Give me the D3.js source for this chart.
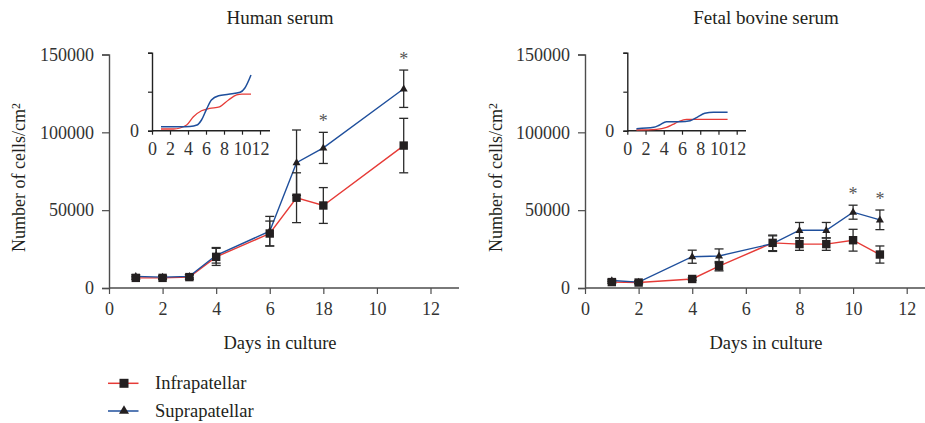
<!DOCTYPE html>
<html><head><meta charset="utf-8">
<script src="https://cdn.jsdelivr.net/npm/d3@7"></script>
<style>
body{margin:0;background:#fff}
text{font-family:"Liberation Serif","Times New Roman",serif}
</style>
</head><body>
<svg id="c" width="925" height="423"></svg>
<script>
// ---------- data ----------
const xTickValues = [0, 2, 4, 6, 8, 10, 12];
const hsXTickLabels = ["0", "2", "4", "6", "18", "10", "12"];
const fbsXTickLabels = ["0", "2", "4", "6", "8", "10", "12"];
const yTickValues = [0, 50000, 100000, 150000];
const seriesNames = ["Infrapatellar", "Suprapatellar"];
const panelTitles = ["Human serum", "Fetal bovine serum"];
const xAxisTitle = "Days in culture";

// Human serum
const hsDays = [1, 2, 3, 4, 6, 7, 8, 11];
const hsInfra = [6500, 6500, 7000, 20000, 35000, 58000, 53000, 91500];
const hsInfraErr = [1000, 1000, 1500, 5500, 8000, 16000, 11500, 17500];
const hsSupra = [7500, 7000, 7500, 21000, 36500, 80500, 90000, 128000];
const hsSupraErr = [1000, 1000, 1000, 5000, 9500, 21000, 10000, 12000];
const hsStarDays = [8, 11];

// Fetal bovine serum
const fbsDays = [1, 2, 4, 5, 7, 8, 9, 10, 11];
const fbsInfra = [3800, 3500, 5800, 14000, 29000, 28200, 28200, 30700, 21500];
const fbsInfraErr = [800, 800, 800, 3000, 5000, 4000, 4000, 7000, 5500];
const fbsSupra = [4800, 3800, 20100, 20600, 28500, 37100, 37100, 48700, 43800];
const fbsSupraErr = [800, 800, 4200, 4500, 5000, 5000, 5000, 4500, 6300];
const fbsStarDays = [10, 11];

// Insets (relative units)
const hsInsetInfraX = [1, 2.4, 3.85, 4.6, 5.5, 6.4, 7.5, 8.5, 9.4, 10, 11];
const hsInsetInfraY = [2.2, 2.2, 7.3, 17.9, 25.6, 28.6, 30.6, 39.4, 45.8, 46.9, 46.9];
const hsInsetSupraX = [1, 2, 3, 4.2, 5, 5.5, 6.1, 6.6, 7.4, 8.5, 9.8, 10.3, 11];
const hsInsetSupraY = [5.2, 5.2, 5.2, 5.5, 7.3, 13.7, 28.6, 39.4, 44.9, 46.7, 49.2, 54.4, 71.4];
const fbsInsetInfraX = [1, 3.2, 4.3, 5, 5.6, 6.5, 11];
const fbsInsetInfraY = [0.9, 1.8, 4.3, 8, 11.5, 14.6, 14.6];
const fbsInsetSupraX = [1, 2.9, 3.5, 4.3, 5.8, 6.9, 7.7, 8.5, 9.45, 11];
const fbsInsetSupraY = [2.6, 4.3, 7, 11.5, 11.5, 12.8, 17.5, 22.3, 23.6, 23.6];
const insetYTicks = [0, 50, 100];

// ---------- styles ----------
const RED = "#e63b37", BLUE = "#1f4f9c", MARK = "#231f20", AXIS = "#4d4d4d", TXT = "#231f20", TICKTXT = "#333";
const svg = d3.select("#c");

function tri(w, h) {
  return `M0,${-h * 0.62}L${w / 2},${h * 0.38}L${-w / 2},${h * 0.38}Z`;
}

function panel(o) {
  const g = svg.append("g");
  const x = d3.scaleLinear().domain([0, 12]).range([o.x0, o.x12]);
  const y = d3.scaleLinear().domain([0, 150000]).range([288, 54.5]);

  // x axis
  const xa = g.append("g").attr("transform", "translate(0,288)")
    .call(d3.axisBottom(x).tickValues(xTickValues).tickSize(6).tickPadding(8)
      .tickFormat((d, i) => o.xLabels[i]));
  xa.select(".domain").remove();
  xa.append("line").attr("x1", o.x0).attr("x2", o.xEnd).attr("y1", 0).attr("y2", 0)
    .attr("stroke", AXIS).attr("stroke-width", 1.6);
  xa.selectAll(".tick line").attr("stroke", AXIS).attr("stroke-width", 1.2);
  xa.selectAll("text").style("font-size", "18px").style("fill", TICKTXT);

  // y axis
  const ya = g.append("g").attr("transform", `translate(${o.x0},0)`)
    .call(d3.axisLeft(y).tickValues(yTickValues).tickSize(7).tickPadding(8).tickFormat(d3.format("d")));
  ya.select(".domain").attr("stroke", AXIS).attr("stroke-width", 1.4);
  ya.selectAll(".tick line").attr("stroke", AXIS).attr("stroke-width", 1.2);
  ya.selectAll("text").style("font-size", "18px").style("fill", TICKTXT);

  // titles
  g.append("text").attr("x", o.cx).attr("y", 24.3).attr("text-anchor", "middle")
    .style("font-size", "19px").style("fill", TXT).text(o.title);
  g.append("text").attr("x", o.cx).attr("y", 349.3).attr("text-anchor", "middle")
    .style("font-size", "18.5px").style("fill", TXT).text(xAxisTitle);
  const yl = g.append("text").attr("transform", `translate(${o.ylx},177.5) rotate(-90)`)
    .attr("text-anchor", "middle").style("font-size", "18px").style("fill", TXT);
  yl.append("tspan").text("Number of cells/cm");
  yl.append("tspan").attr("dy", "-0.45em").style("font-size", "12px").text("2");

  const series = [
    {v: o.infra, e: o.infraErr, days: o.days, color: RED, m: "sq"},
    {v: o.supra, e: o.supraErr, days: o.days, color: BLUE, m: "tri"}
  ];
  const line = d3.line();
  series.forEach(s => {
    g.append("path").attr("fill", "none").attr("stroke", s.color).attr("stroke-width", 1.4)
      .attr("d", line(s.days.map((d, i) => [x(d), y(s.v[i])])));
  });
  series.forEach(s => {
    s.days.forEach((d, i) => {
      const cx = x(d), t = y(s.v[i] + s.e[i]), b = y(s.v[i] - s.e[i]);
      const eg = g.append("g").attr("stroke", "#2b2b2b").attr("stroke-width", 1.3);
      eg.append("line").attr("x1", cx).attr("x2", cx).attr("y1", t).attr("y2", b);
      eg.append("line").attr("x1", cx - 4.5).attr("x2", cx + 4.5).attr("y1", t).attr("y2", t);
      eg.append("line").attr("x1", cx - 4.5).attr("x2", cx + 4.5).attr("y1", b).attr("y2", b);
    });
  });
  series.slice().reverse().forEach(s => {
    s.days.forEach((d, i) => {
      const cx = x(d), cy = y(s.v[i]);
      if (s.m === "sq") {
        g.append("rect").attr("x", cx - 4.2).attr("y", cy - 4.2).attr("width", 8.4).attr("height", 8.4)
          .attr("fill", MARK);
      } else {
        g.append("path").attr("d", tri(8, 7)).attr("transform", `translate(${cx},${cy})`).attr("fill", MARK);
      }
    });
  });
  // asterisks
  o.stars.forEach(d => {
    const i = o.days.indexOf(d);
    const top = y(o.supra[i] + o.supraErr[i]);
    g.append("text").attr("x", x(d)).attr("y", top - 5).attr("text-anchor", "middle")
      .style("font-size", "18px").style("fill", "#555").text("*");
  });

  // inset
  const ix = d3.scaleLinear().domain([0, 12]).range([o.ix0, o.ix12]);
  const iy = d3.scaleLinear().domain([0, 100]).range([130.7, 52.7]);
  const ig = g.append("g");
  const ixa = ig.append("g").attr("transform", "translate(0,130.7)")
    .call(d3.axisBottom(ix).tickValues(xTickValues).tickSize(4).tickPadding(8));
  ixa.select(".domain").remove();
  ixa.append("line").attr("x1", o.ix0).attr("x2", o.ixEnd).attr("stroke", "#222").attr("stroke-width", 1.4);
  ixa.selectAll(".tick line").attr("stroke", "#222").attr("stroke-width", 1.2);
  ixa.selectAll("text").style("font-size", "18px").style("fill", TICKTXT);
  const iya = ig.append("g").attr("transform", `translate(${o.ix0},0)`)
    .call(d3.axisLeft(iy).tickValues(insetYTicks).tickSize(4).tickPadding(9)
      .tickFormat(d => d === 0 ? "0" : ""));
  iya.select(".domain").attr("stroke", "#222").attr("stroke-width", 1.4);
  iya.selectAll(".tick line").attr("stroke", "#222").attr("stroke-width", 1.2);
  iya.selectAll("text").style("font-size", "18px").style("fill", TICKTXT);
  const cl = d3.line().curve(d3.curveMonotoneX);
  ig.append("path").attr("fill", "none").attr("stroke", RED).attr("stroke-width", 1.3)
    .attr("d", cl(o.insInfraX.map((d, i) => [ix(d), iy(o.insInfraY[i])])));
  ig.append("path").attr("fill", "none").attr("stroke", BLUE).attr("stroke-width", 1.5)
    .attr("d", cl(o.insSupraX.map((d, i) => [ix(d), iy(o.insSupraY[i])])));
}

panel({x0: 109, x12: 430.5, xEnd: 459, cx: 280, ylx: 25, title: panelTitles[0], xLabels: hsXTickLabels,
  days: hsDays, infra: hsInfra, infraErr: hsInfraErr, supra: hsSupra, supraErr: hsSupraErr, stars: hsStarDays,
  ix0: 152, ix12: 260, ixEnd: 270,
  insInfraX: hsInsetInfraX, insInfraY: hsInsetInfraY, insSupraX: hsInsetSupraX, insSupraY: hsInsetSupraY});
panel({x0: 585, x12: 906.7, xEnd: 925, cx: 766, ylx: 502, title: panelTitles[1], xLabels: fbsXTickLabels,
  days: fbsDays, infra: fbsInfra, infraErr: fbsInfraErr, supra: fbsSupra, supraErr: fbsSupraErr, stars: fbsStarDays,
  ix0: 627.3, ix12: 736.7, ixEnd: 746,
  insInfraX: fbsInsetInfraX, insInfraY: fbsInsetInfraY, insSupraX: fbsInsetSupraX, insSupraY: fbsInsetSupraY});

// legend
const lg = svg.append("g");
[[383.3, RED, "sq"], [411, BLUE, "tri"]].forEach((r, i) => {
  lg.append("line").attr("x1", 108).attr("x2", 138.5).attr("y1", r[0]).attr("y2", r[0])
    .attr("stroke", r[1]).attr("stroke-width", 1.5);
  if (r[2] === "sq") lg.append("rect").attr("x", 119.5).attr("y", r[0] - 4.5).attr("width", 9).attr("height", 9).attr("fill", MARK);
  else lg.append("path").attr("d", tri(10, 8.5)).attr("transform", `translate(124,${r[0] - 0.5})`).attr("fill", MARK);
  lg.append("text").attr("x", 155).attr("y", r[0] + 6).style("font-size", "18.5px").style("fill", TXT).text(seriesNames[i]);
});
</script>
</body></html>
